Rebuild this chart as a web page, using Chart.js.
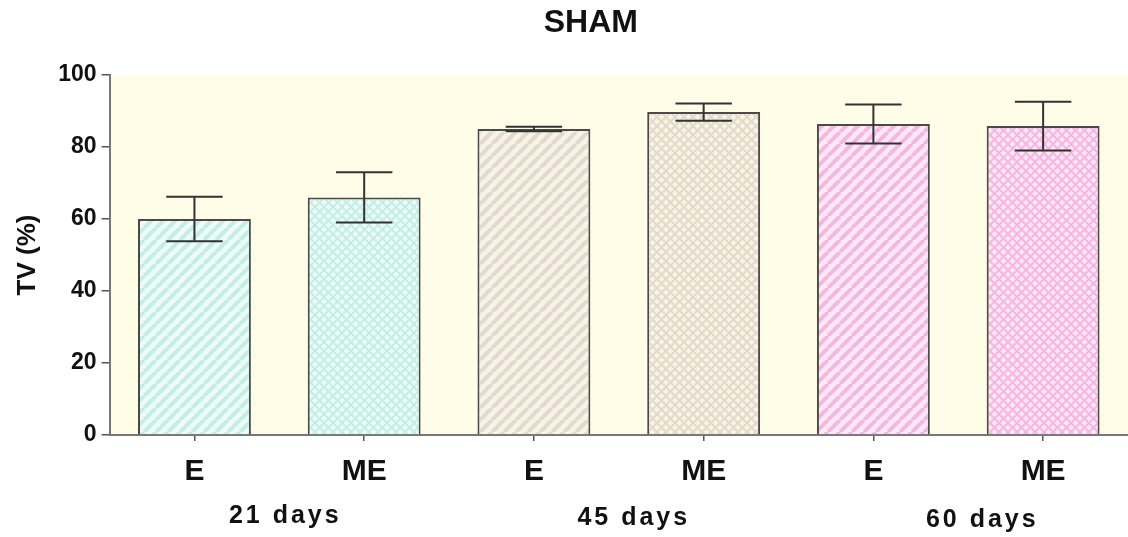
<!DOCTYPE html>
<html>
<head>
<meta charset="utf-8">
<script src="https://cdn.jsdelivr.net/npm/chart.js@4"></script>
<style>
  html, body { margin: 0; padding: 0; background: #fff; }
  #wrap { width: 1128px; height: 537px; }
</style>
</head>
<body>
<div id="wrap"><canvas id="tvChart"></canvas></div>
<script>
// data
const labels = ['E', 'ME', 'E', 'ME', 'E', 'ME'];
const groups = ['21 days', '45 days', '60 days'];
const values = [60, 66, 85, 89.7, 86.4, 85.8];
const errors = [6.2, 7, 0.6, 2.4, 5.4, 6.8];
const yTicks = [0, 20, 40, 60, 80, 100];

// fill colours per group: [light, dark]
const groupColors = [
  ['#eefbf7', '#c2efe5'],
  ['#f8f3ea', '#e4dac7'],
  ['#fde8f6', '#f7b6e2']
];

function stripePattern(light, dark) {
  const c = document.createElement('canvas');
  c.width = 12; c.height = 12;
  const g = c.getContext('2d');
  g.fillStyle = light;
  g.fillRect(0, 0, 12, 12);
  g.strokeStyle = dark;
  g.lineWidth = 4;
  for (let k = -12; k <= 24; k += 12) {
    g.beginPath();
    g.moveTo(k, 12);
    g.lineTo(k + 12, 0);
    g.stroke();
  }
  return g.createPattern(c, 'repeat');
}

function hatchPattern(light, dark) {
  const c = document.createElement('canvas');
  c.width = 9; c.height = 9;
  const g = c.getContext('2d');
  g.fillStyle = light;
  g.fillRect(0, 0, 9, 9);
  g.strokeStyle = dark;
  g.lineWidth = 2;
  for (let k = -9; k <= 18; k += 9) {
    g.beginPath(); g.moveTo(k, 9); g.lineTo(k + 9, 0); g.stroke();
    g.beginPath(); g.moveTo(k, 0); g.lineTo(k + 9, 9); g.stroke();
  }
  return g.createPattern(c, 'repeat');
}

const fills = labels.map((l, i) => {
  const col = groupColors[Math.floor(i / 2)];
  return l === 'E' ? stripePattern(col[0], col[1]) : hatchPattern(col[0], col[1]);
});

const FONT = "'Liberation Sans', Arial, sans-serif";

// yellow plot background
const plotBg = {
  id: 'plotBg',
  beforeDraw(chart) {
    const { ctx, chartArea: a } = chart;
    ctx.save();
    ctx.fillStyle = '#fffde8';
    ctx.fillRect(a.left, a.top, a.right - a.left, a.bottom - a.top);
    ctx.restore();
  }
};

// error bars, title and group labels
const extras = {
  id: 'extras',
  afterDatasetsDraw(chart) {
    const { ctx } = chart;
    const y = chart.scales.y;
    const meta = chart.getDatasetMeta(0);
    ctx.save();
    ctx.strokeStyle = '#333';
    ctx.lineWidth = 2;
    values.forEach((v, i) => {
      const bar = meta.data[i];
      const cx = bar.x;
      const half = bar.width / 4;
      const top = y.getPixelForValue(v + errors[i]);
      const bot = y.getPixelForValue(v - errors[i]);
      ctx.beginPath();
      ctx.moveTo(cx, top); ctx.lineTo(cx, bot);
      ctx.moveTo(cx - half, top); ctx.lineTo(cx + half, top);
      ctx.moveTo(cx - half, bot); ctx.lineTo(cx + half, bot);
      ctx.stroke();
    });
    ctx.restore();
  },
  afterDraw(chart) {
    const { ctx, chartArea: a } = chart;
    const x = chart.scales.x;
    ctx.save();
    ctx.fillStyle = '#111';
    ctx.textAlign = 'center';
    ctx.textBaseline = 'middle';
    ctx.font = 'bold 32px ' + FONT;
    ctx.fillText('SHAM', (a.left + a.right) / 2 - 28, 23);
    ctx.font = 'bold 25px ' + FONT;
    ctx.letterSpacing = '3px';
    groups.forEach((g, i) => {
      const cx = (x.getPixelForValue(i * 2) + x.getPixelForValue(i * 2 + 1)) / 2 + 6 + i * 9;
      ctx.fillText(g, cx, 516 + i * 2);
    });
    ctx.restore();
  }
};

new Chart(document.getElementById('tvChart'), {
  type: 'bar',
  data: {
    labels: labels,
    datasets: [{
      data: values,
      backgroundColor: fills,
      borderColor: '#4a4a4a',
      borderWidth: 2,
      borderSkipped: 'bottom',
      barPercentage: 0.665,
      categoryPercentage: 1
    }]
  },
  options: {
    responsive: true,
    maintainAspectRatio: false,
    animation: false,
    layout: { padding: { left: 0, right: 0, top: 75, bottom: 34 } },
    plugins: {
      legend: { display: false },
      tooltip: { enabled: false },
      title: { display: false }
    },
    scales: {
      x: {
        grid: { drawOnChartArea: false, offset: false, tickLength: 6, color: '#555', lineWidth: 1.5 },
        border: { color: '#777', width: 2 },
        ticks: {
          color: '#111',
          padding: 13,
          font: { family: FONT, size: 30, weight: 'bold' },
          maxRotation: 0
        }
      },
      y: {
        min: 0,
        max: 100,
        afterBuildTicks(scale) {
          scale.ticks = yTicks.map(v => ({ value: v }));
        },
        grid: { drawOnChartArea: false, tickLength: 8, color: '#555', lineWidth: 1.5 },
        border: { color: '#777', width: 2 },
        ticks: {
          color: '#111',
          padding: 5,
          font: { family: FONT, size: 23, weight: 'bold' }
        },
        title: {
          display: true,
          text: 'TV (%)',
          color: '#111',
          font: { family: FONT, size: 26, weight: 'bold' },
          padding: { top: 12, bottom: 10 }
        }
      }
    }
  },
  plugins: [plotBg, extras]
});
</script>
</body>
</html>
